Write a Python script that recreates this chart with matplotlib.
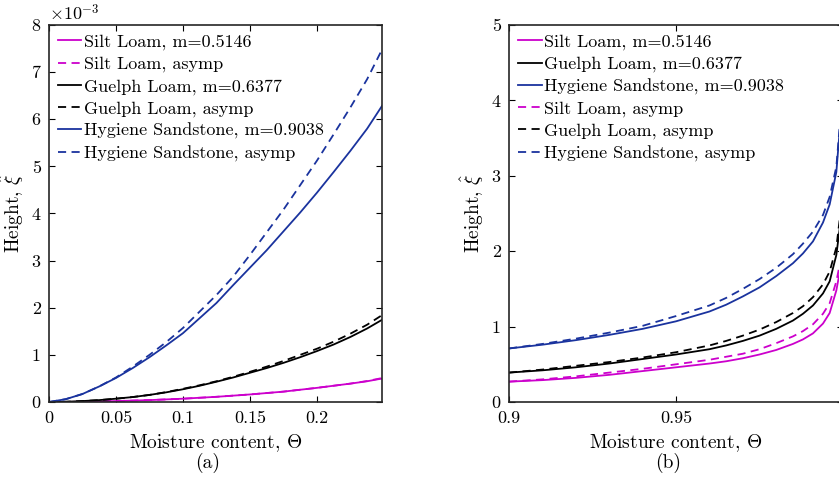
import matplotlib as mpl
mpl.use('Agg')
import matplotlib.pyplot as plt
from matplotlib.ticker import FuncFormatter

plt.rcParams['font.family'] = 'serif'
plt.rcParams['font.serif'] = ['cmr10']
plt.rcParams['mathtext.fontset'] = 'cm'
plt.rcParams['axes.formatter.use_mathtext'] = True
plt.rcParams['axes.unicode_minus'] = False

MAGENTA = (0.80, 0.0, 0.80)
BLACK = 'k'
BLUE = (0.10, 0.20, 0.62)

############# DATA (a): small moisture content, heights in units of 1e-3 ##############
thetaA = [0, 0.0125, 0.025, 0.0375, 0.05, 0.0625, 0.075, 0.0875, 0.1, 0.1125, 0.125,
          0.1375, 0.15, 0.1625, 0.175, 0.1875, 0.2, 0.2125, 0.225, 0.2375, 0.249]
siltA = [0, 0.0015, 0.005, 0.011, 0.02, 0.03, 0.04, 0.055, 0.07, 0.09, 0.11,
         0.135, 0.16, 0.19, 0.22, 0.26, 0.30, 0.345, 0.39, 0.44, 0.50]
siltA_asymp = [0, 0.0015, 0.005, 0.011, 0.02, 0.03, 0.04, 0.055, 0.07, 0.09, 0.11,
               0.135, 0.16, 0.19, 0.22, 0.26, 0.30, 0.345, 0.39, 0.445, 0.51]
guelphA = [0, 0.005, 0.02, 0.04, 0.07, 0.105, 0.15, 0.205, 0.27, 0.345, 0.43,
           0.52, 0.62, 0.72, 0.83, 0.95, 1.08, 1.22, 1.38, 1.56, 1.75]
guelphA_asymp = [0, 0.005, 0.02, 0.04, 0.07, 0.105, 0.15, 0.21, 0.28, 0.355, 0.44,
                 0.535, 0.64, 0.75, 0.87, 1.0, 1.13, 1.28, 1.45, 1.64, 1.85]
hygA = [0, 0.06, 0.17, 0.33, 0.51, 0.72, 0.95, 1.2, 1.46, 1.78, 2.1,
        2.48, 2.85, 3.22, 3.62, 4.02, 4.44, 4.88, 5.33, 5.8, 6.3]
hygA_asymp = [0, 0.06, 0.17, 0.33, 0.52, 0.75, 1.0, 1.27, 1.57, 1.92, 2.27,
              2.66, 3.12, 3.6, 4.08, 4.6, 5.12, 5.68, 6.25, 6.85, 7.5]

############# DATA (b): moisture content near saturation ##############
thetaB = [0.9, 0.91, 0.92, 0.93, 0.94, 0.95, 0.96, 0.965, 0.97, 0.975, 0.98,
          0.985, 0.988, 0.991, 0.994, 0.996, 0.998, 0.999]
siltB = [0.27, 0.29, 0.32, 0.36, 0.41, 0.46, 0.51, 0.54, 0.58, 0.63, 0.69,
         0.77, 0.83, 0.91, 1.04, 1.18, 1.48, 1.72]
siltB_asymp = [0.27, 0.30, 0.34, 0.39, 0.44, 0.50, 0.56, 0.60, 0.64, 0.70, 0.78,
               0.87, 0.94, 1.03, 1.17, 1.31, 1.60, 1.82]
guelphB = [0.39, 0.42, 0.46, 0.51, 0.57, 0.63, 0.70, 0.75, 0.81, 0.88, 0.97,
           1.08, 1.17, 1.28, 1.44, 1.60, 1.95, 2.30]
guelphB_asymp = [0.39, 0.43, 0.48, 0.53, 0.59, 0.66, 0.75, 0.81, 0.88, 0.96, 1.06,
                 1.18, 1.27, 1.39, 1.56, 1.73, 2.05, 2.42]
hygB = [0.71, 0.76, 0.82, 0.89, 0.97, 1.07, 1.20, 1.29, 1.40, 1.52, 1.67,
        1.84, 1.97, 2.13, 2.38, 2.62, 3.05, 3.60]
hygB_asymp = [0.71, 0.77, 0.84, 0.92, 1.01, 1.14, 1.28, 1.38, 1.50, 1.63, 1.78,
              1.96, 2.10, 2.26, 2.48, 2.72, 3.12, 3.65]

STR_SILT = 'Silt Loam, m=0.5146'
STR_GUELPH = 'Guelph Loam, m=0.6377'
STR_HYG = 'Hygiene Sandstone, m=0.9038'
STR_SILT_A = 'Silt Loam, asymp'
STR_GUELPH_A = 'Guelph Loam, asymp'
STR_HYG_A = 'Hygiene Sandstone, asymp'
STR_X = r'Moisture content, $\Theta$'
STR_Y = r'Height, $\hat{\xi}$'

LW = 1.3
DASH = (4.5, 3)
FS = 13

fmt = FuncFormatter(lambda v, p: '%g' % round(v, 6))

fig = plt.figure(figsize=(8.39, 4.90), dpi=100)
axA = fig.add_axes([0.0584, 0.1796, 0.3969, 0.7694])
axB = fig.add_axes([0.6067, 0.1796, 0.3981, 0.7694])


def style(ax):
    ax.tick_params(direction='in', top=True, right=True, labelsize=FS, length=4, width=0.8, pad=6)
    for s in ax.spines.values():
        s.set_linewidth(1.2)
        s.set_color('#262626')
    ax.xaxis.set_major_formatter(fmt)
    ax.yaxis.set_major_formatter(fmt)
    ax.set_xlabel(STR_X, fontsize=FS + 1, labelpad=5)
    ax.set_ylabel(STR_Y, fontsize=FS + 1, labelpad=4)


## (a)
axA.plot(thetaA, siltA, color=MAGENTA, lw=LW, label=STR_SILT)
axA.plot(thetaA, siltA_asymp, color=MAGENTA, lw=LW, ls='--', dashes=DASH, label=STR_SILT_A)
axA.plot(thetaA, guelphA, color=BLACK, lw=LW, label=STR_GUELPH)
axA.plot(thetaA, guelphA_asymp, color=BLACK, lw=LW, ls='--', dashes=DASH, label=STR_GUELPH_A)
axA.plot(thetaA, hygA, color=BLUE, lw=LW, label=STR_HYG)
axA.plot(thetaA, hygA_asymp, color=BLUE, lw=LW, ls='--', dashes=DASH, label=STR_HYG_A)
axA.set_xlim(0, 0.2486)
axA.set_ylim(0, 8)
axA.set_xticks([0, 0.05, 0.1, 0.15, 0.2])
axA.set_yticks(range(9))
style(axA)
axA.text(0.0, 1.005, r'$\times10^{-3}$', transform=axA.transAxes, fontsize=FS, va='bottom', ha='left')

## (b)
axB.plot(thetaB, siltB, color=MAGENTA, lw=LW, label=STR_SILT)
axB.plot(thetaB, guelphB, color=BLACK, lw=LW, label=STR_GUELPH)
axB.plot(thetaB, hygB, color=BLUE, lw=LW, label=STR_HYG)
axB.plot(thetaB, siltB_asymp, color=MAGENTA, lw=LW, ls='--', dashes=DASH, label=STR_SILT_A)
axB.plot(thetaB, guelphB_asymp, color=BLACK, lw=LW, ls='--', dashes=DASH, label=STR_GUELPH_A)
axB.plot(thetaB, hygB_asymp, color=BLUE, lw=LW, ls='--', dashes=DASH, label=STR_HYG_A)
axB.set_xlim(0.9, 1.0)
axB.set_ylim(0, 5)
axB.set_xticks([0.9, 0.95])
axB.set_yticks(range(6))
style(axB)

for ax in (axA, axB):
    ax.legend(loc='upper left', frameon=False, fontsize=FS, handlelength=1.3,
              handletextpad=0.15, labelspacing=0.34, borderaxespad=0.3, borderpad=0.2)

fig.text(0.247, 0.055, '(a)', fontsize=FS + 1, ha='center', va='center')
fig.text(0.796, 0.055, '(b)', fontsize=FS + 1, ha='center', va='center')

fig.savefig('out.png', dpi=100)
